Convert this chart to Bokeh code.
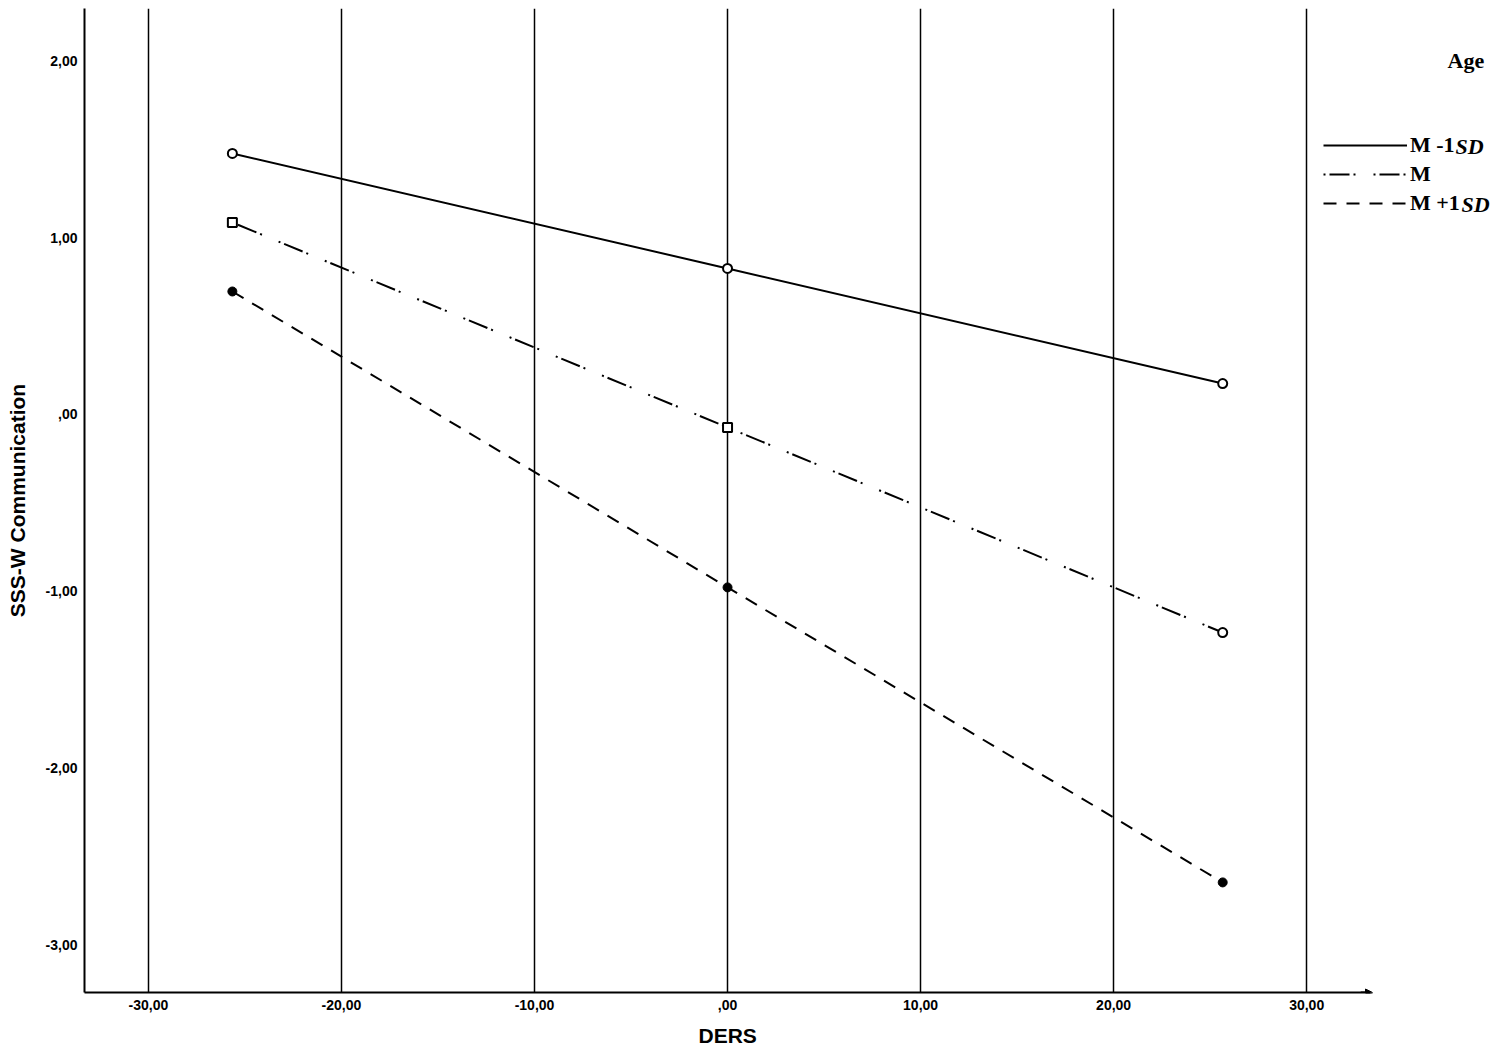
from bokeh.plotting import figure
from bokeh.models import (Range1d, FixedTicker, Legend, LegendItem, Label, Arrow, NormalHead,
                          ColumnDataSource, Title)
from bokeh.embed import file_html
from bokeh.resources import INLINE

# ---- data ----
ders = [-25.65, 0.0, 25.65]
m_minus = [1.475, 0.825, 0.175]
m_mean = [1.085, -0.073, -1.232]
m_plus = [0.695, -0.977, -2.644]
mean_markers = ["square", "square", "circle"]

x_ticks = [-30, -20, -10, 0, 10, 20, 30]
x_tick_labels = ["-30,00", "-20,00", "-10,00", ",00", "10,00", "20,00", "30,00"]
y_ticks = [-3, -2, -1, 0, 1, 2]
y_tick_labels = ["-3,00", "-2,00", "-1,00", ",00", "1,00", "2,00"]

X_AXIS_END = 33.31

p = figure(width=1500, height=1060, output_backend="svg", toolbar_location=None,
           x_range=Range1d(-33.31, 40.04), y_range=Range1d(-3.266, 2.294),
           min_border_left=84, min_border_right=0, min_border_top=8, min_border_bottom=68)
p.outline_line_color = None
p.background_fill_color = "white"

# axes
for ax in (p.xaxis[0], p.yaxis[0]):
    ax.axis_line_width = 2
    ax.axis_line_color = "black"
    ax.major_tick_out = 0
    ax.major_tick_in = 0
    ax.minor_tick_out = 0
    ax.minor_tick_in = 0
    ax.major_label_text_font = "Liberation Sans"
    ax.major_label_text_font_style = "bold"
    ax.major_label_text_font_size = "14px"
    ax.major_label_text_color = "black"
    ax.axis_label_text_font = "Liberation Sans"
    ax.axis_label_text_font_style = "bold"
    ax.axis_label_text_font_size = "21px"
    ax.axis_label_text_color = "black"

p.xaxis.bounds = (-33.31, X_AXIS_END)
p.xaxis.ticker = FixedTicker(ticks=x_ticks)
p.xaxis.major_label_overrides = dict(zip(x_ticks, x_tick_labels))
p.yaxis.ticker = FixedTicker(ticks=y_ticks)
p.yaxis.major_label_overrides = dict(zip(y_ticks, y_tick_labels))
p.yaxis.axis_label = "SSS-W Communication"
p.xaxis.major_label_standoff = 7
p.yaxis.major_label_standoff = 7
p.yaxis.axis_label_standoff = 14

# x-axis title, centred under the plotted x span (the frame extends right for the legend)
p.add_layout(Title(text="DERS", align="left", offset=614, standoff=19,
                   text_font="Liberation Sans", text_font_style="bold",
                   text_font_size="21px", text_color="black"), "below")

p.ygrid.visible = False
p.xgrid.grid_line_color = "black"
p.xgrid.grid_line_width = 1.5

# lines
r1 = p.line(ders, m_minus, line_color="black", line_width=2)
r2 = p.line(ders, m_mean, line_color="black", line_width=2, line_dash="2 4 20 4 2 18")
r3 = p.line(ders, m_plus, line_color="black", line_width=2, line_dash="13 10")

p.scatter(ders, m_minus, marker="circle", size=9, fill_color="white", line_color="black", line_width=2)
src_mean = ColumnDataSource(dict(x=ders, y=m_mean, m=mean_markers))
p.scatter("x", "y", marker="m", source=src_mean, size=9, fill_color="white",
          line_color="black", line_width=2)
p.scatter(ders, m_plus, marker="circle", size=9, fill_color="black", line_color="black", line_width=1)

# x-axis arrow tip
p.add_layout(Arrow(end=NormalHead(size=7, fill_color="black", line_color="black"),
                   x_start=32.8, y_start=-3.266, x_end=X_AXIS_END + 0.1, y_end=-3.266,
                   line_width=2, line_color="black"))

# legend
legend = Legend(items=[LegendItem(label="M -1", renderers=[r1]),
                       LegendItem(label="M", renderers=[r2]),
                       LegendItem(label="M +1", renderers=[r3])],
                location=(1239, 776), orientation="vertical",
                glyph_width=84, glyph_height=22, label_height=22, spacing=3,
                padding=0, margin=0, label_standoff=3,
                border_line_color=None, background_fill_alpha=0)
legend.label_text_font = "Liberation Serif"
legend.label_text_font_style = "bold"
legend.label_text_font_size = "22px"
legend.label_text_color = "black"
p.add_layout(legend, "center")

p.add_layout(Label(x=1363, y=932, x_units="screen", y_units="screen", text="Age",
                   text_font="Liberation Serif", text_font_style="bold", text_font_size="22px",
                   text_color="black", text_baseline="alphabetic"))
for xx, yy in ((1371, 846), (1377, 788)):
    p.add_layout(Label(x=xx, y=yy, x_units="screen", y_units="screen", text="SD",
                       text_font="Liberation Serif", text_font_style="bold italic",
                       text_font_size="22px", text_color="black", text_baseline="alphabetic"))

open("out.html", "w").write(file_html(p, INLINE))
